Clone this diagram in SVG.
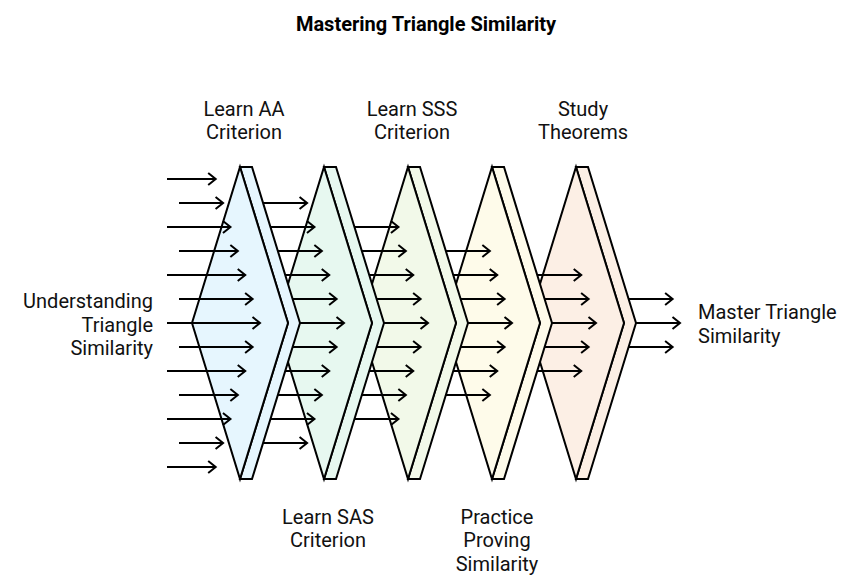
<svg xmlns="http://www.w3.org/2000/svg" width="864" height="588" viewBox="0 0 864 588">
<style>
.sh{stroke:#000;stroke-width:2;stroke-linejoin:miter}
.ar{stroke:#000;stroke-width:2;fill:none}
text{font-family:Roboto,"Liberation Sans",sans-serif;font-size:20px;fill:#111}
.title{font-weight:bold;font-size:20px;fill:#000}
.c{text-anchor:middle}
.e{text-anchor:end}
</style>
<defs>
<marker id="ah" markerUnits="userSpaceOnUse" viewBox="0 0 14 16" markerWidth="14" markerHeight="16" refX="10" refY="8" orient="auto" overflow="visible">
<path d="M2.5,2 L10,8 L2.5,14" fill="none" stroke="#000" stroke-width="2"/>
</marker>
</defs>
<rect width="864" height="588" fill="#fff"/>
<text class="title c" x="426" y="31">Mastering Triangle Similarity</text>

<g id="shapes">
<g id="study-theorems">
<polygon class="sh" fill="#FCEFE5" points="576,167 588,167 636,323 588,479 576,479 624,323"/>
<polygon class="sh" fill="#FCEFE5" points="576,167 624,323 576,479 528,323"/>
</g>
<g id="practice-proving">
<polygon class="sh" fill="#FEFBEA" points="492,167 504,167 552,323 504,479 492,479 540,323"/>
<polygon class="sh" fill="#FEFBEA" points="492,167 540,323 492,479 444,323"/>
</g>
<g id="learn-sss">
<polygon class="sh" fill="#F2F9E9" points="408,167 420,167 468,323 420,479 408,479 456,323"/>
<polygon class="sh" fill="#F2F9E9" points="408,167 456,323 408,479 360,323"/>
</g>
<g id="learn-sas">
<polygon class="sh" fill="#E7F8F0" points="324,167 336,167 384,323 336,479 324,479 372,323"/>
<polygon class="sh" fill="#E7F8F0" points="324,167 372,323 324,479 276,323"/>
</g>
<g id="learn-aa">
<polygon class="sh" fill="#E6F6FE" points="240,167 252,167 300,323 252,479 240,479 288,323"/>
<polygon class="sh" fill="#E6F6FE" points="240,167 288,323 240,479 192,323"/>
</g>
</g>

<g id="connectors" class="ar" marker-end="url(#ah)">
<line x1="167" y1="179" x2="215.69" y2="179"/>
<line x1="179" y1="203" x2="223.08" y2="203"/>
<line x1="167" y1="227" x2="230.46" y2="227"/>
<line x1="179" y1="251" x2="237.85" y2="251"/>
<line x1="167" y1="275" x2="245.23" y2="275"/>
<line x1="179" y1="299" x2="252.62" y2="299"/>
<line x1="167" y1="323" x2="260" y2="323"/>
<line x1="179" y1="347" x2="252.62" y2="347"/>
<line x1="167" y1="371" x2="245.23" y2="371"/>
<line x1="179" y1="395" x2="237.85" y2="395"/>
<line x1="167" y1="419" x2="230.46" y2="419"/>
<line x1="179" y1="443" x2="223.08" y2="443"/>
<line x1="167" y1="467" x2="215.69" y2="467"/>

<line x1="263.08" y1="203" x2="307.08" y2="203"/>
<line x1="270.46" y1="227" x2="314.46" y2="227"/>
<line x1="277.85" y1="251" x2="321.85" y2="251"/>
<line x1="285.23" y1="275" x2="329.23" y2="275"/>
<line x1="292.62" y1="299" x2="336.62" y2="299"/>
<line x1="300" y1="323" x2="344" y2="323"/>
<line x1="292.62" y1="347" x2="336.62" y2="347"/>
<line x1="285.23" y1="371" x2="329.23" y2="371"/>
<line x1="277.85" y1="395" x2="321.85" y2="395"/>
<line x1="270.46" y1="419" x2="314.46" y2="419"/>
<line x1="263.08" y1="443" x2="307.08" y2="443"/>

<line x1="354.46" y1="227" x2="398.46" y2="227"/>
<line x1="361.85" y1="251" x2="405.85" y2="251"/>
<line x1="369.23" y1="275" x2="413.23" y2="275"/>
<line x1="376.62" y1="299" x2="420.62" y2="299"/>
<line x1="384" y1="323" x2="428" y2="323"/>
<line x1="376.62" y1="347" x2="420.62" y2="347"/>
<line x1="369.23" y1="371" x2="413.23" y2="371"/>
<line x1="361.85" y1="395" x2="405.85" y2="395"/>
<line x1="354.46" y1="419" x2="398.46" y2="419"/>

<line x1="445.85" y1="251" x2="489.85" y2="251"/>
<line x1="453.23" y1="275" x2="497.23" y2="275"/>
<line x1="460.62" y1="299" x2="504.62" y2="299"/>
<line x1="468" y1="323" x2="512" y2="323"/>
<line x1="460.62" y1="347" x2="504.62" y2="347"/>
<line x1="453.23" y1="371" x2="497.23" y2="371"/>
<line x1="445.85" y1="395" x2="489.85" y2="395"/>

<line x1="537.23" y1="275" x2="581.23" y2="275"/>
<line x1="544.62" y1="299" x2="588.62" y2="299"/>
<line x1="552" y1="323" x2="596" y2="323"/>
<line x1="544.62" y1="347" x2="588.62" y2="347"/>
<line x1="537.23" y1="371" x2="581.23" y2="371"/>

<line x1="628.62" y1="299" x2="672.62" y2="299"/>
<line x1="636" y1="323" x2="680" y2="323"/>
<line x1="628.62" y1="347" x2="672.62" y2="347"/>
</g>

<g id="labels">
<g id="label-start"><text class="e" x="153" y="308">Understanding</text><text class="e" x="153" y="331.5">Triangle</text><text class="e" x="153" y="355">Similarity</text></g>
<g id="label-aa"><text class="c" x="244" y="116">Learn AA</text><text class="c" x="244" y="139">Criterion</text></g>
<g id="label-sas"><text class="c" x="328" y="523.5">Learn SAS</text><text class="c" x="328" y="547">Criterion</text></g>
<g id="label-sss"><text class="c" x="412" y="116">Learn SSS</text><text class="c" x="412" y="139">Criterion</text></g>
<g id="label-practice"><text class="c" x="497" y="523.5">Practice</text><text class="c" x="497" y="547">Proving</text><text class="c" x="497" y="570.5">Similarity</text></g>
<g id="label-study"><text class="c" x="583" y="116">Study</text><text class="c" x="583" y="139">Theorems</text></g>
<g id="label-end"><text x="698" y="319">Master Triangle</text><text x="698" y="342.5">Similarity</text></g>
</g>
</svg>
